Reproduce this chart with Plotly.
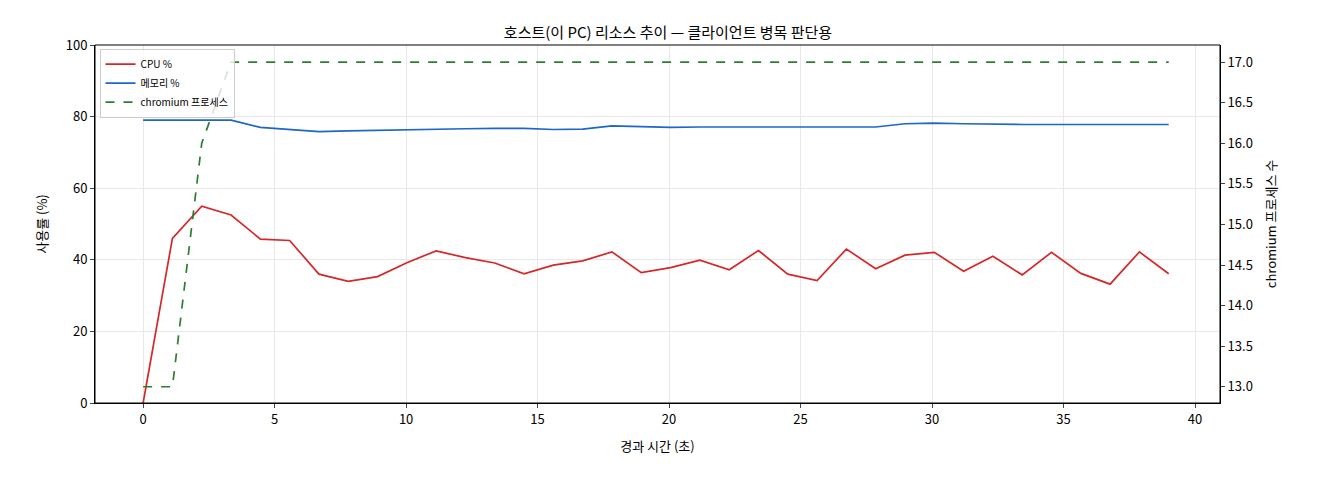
import plotly.graph_objects as go

step = 39.0 / 35
t = [round(i * step, 3) for i in range(36)]
cpu = [0, 46, 55, 52.5, 45.8, 45.4, 36, 34, 35.3, 39.2, 42.5, 40.6, 39.1, 36.1, 38.5, 39.7,
       42.2, 36.4, 37.8, 39.9, 37.2, 42.6, 36, 34.2, 43, 37.5, 41.3, 42.1, 36.8, 41, 35.8,
       42.1, 36.2, 33.2, 42.2, 36.1]
mem = [79, 79, 79, 79, 77, 76.3, 75.8, 76, 76.2, 76.2, 76.5, 76.6, 76.7, 76.7, 76.4, 76.5,
       77.4, 77.2, 77, 77.1, 77.1, 77.1, 77, 77.1, 77.1, 77.1, 78, 78.2, 78, 77.8, 77.8,
       77.8, 77.8, 77.8, 77.8, 77.8]
procs = [13, 13, 16, 17] + [17] * 32

font = "Noto Sans CJK KR"
fig = go.Figure()
fig.add_trace(go.Scatter(x=t, y=cpu, mode="lines", name="CPU %", line=dict(color="#d62728", width=1.7)))
fig.add_trace(go.Scatter(x=t, y=mem, mode="lines", name="메모리 %", line=dict(color="#1f67c6", width=1.7)))
fig.add_trace(go.Scatter(x=t, y=procs, mode="lines", name="chromium 프로세스", yaxis="y2",
                         line=dict(color="#2e7d32", width=1.7, dash="dash")))
ax = dict(showline=True, linecolor="black", mirror=False, ticks="outside", ticklen=4,
          gridcolor="#e8e8e8", zeroline=False, tickfont=dict(size=13))
fig.update_layout(
    width=1320, height=480, template="plotly_white",
    font=dict(family=font, color="black", size=12),
    title=dict(text="호스트(이 PC) 리소스 추이 — 클라이언트 병목 판단용", x=0.5, xanchor="center",
               y=0.96, font=dict(size=15)),
    margin=dict(l=87, r=108, t=37, b=85),
    xaxis=dict(**ax, range=[-1.83, 40.95], dtick=5, title=dict(text="경과 시간 (초)", font=dict(size=13))),
    yaxis=dict(**ax, range=[0, 100], dtick=20, title=dict(text="사용률 (%)", font=dict(size=13))),
    yaxis2=dict(**ax, overlaying="y", side="right", range=[12.80, 17.21], dtick=0.5, showgrid=False,
                tickformat=".1f", title=dict(text="chromium 프로세스 수", font=dict(size=13))),
    legend=dict(x=0.004, y=0.99, xanchor="left", yanchor="top", bordercolor="#cccccc", borderwidth=1,
                bgcolor="rgba(255,255,255,0.8)", font=dict(size=10), tracegroupgap=0),
    showlegend=True,
)
fig.add_shape(type="rect", xref="paper", yref="paper", x0=0, y0=0, x1=1, y1=1,
              line=dict(color="black", width=1))
fig.write_html("out.html")
